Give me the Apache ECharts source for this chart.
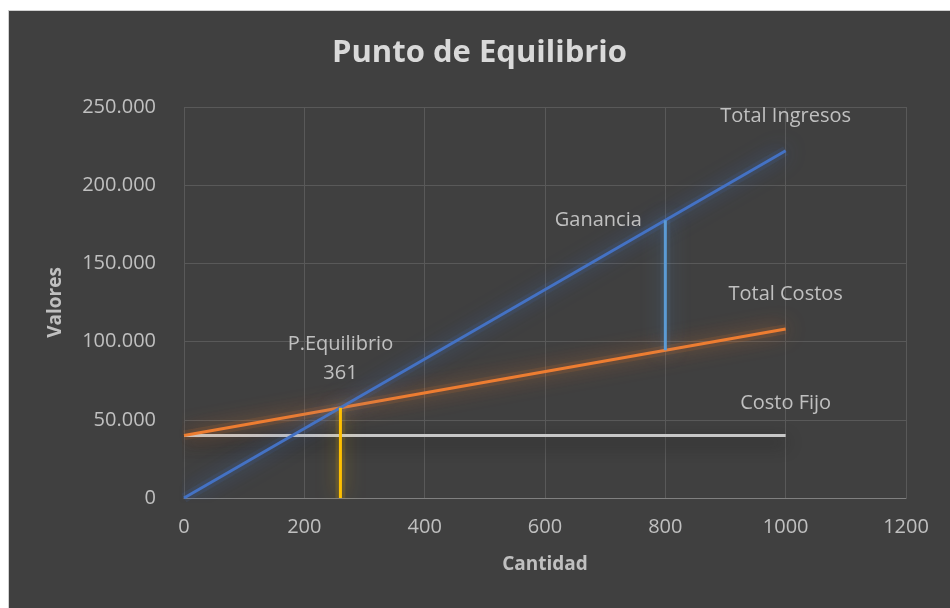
<!DOCTYPE html>
<html>
<head>
<meta charset="utf-8">
<script src="https://cdn.jsdelivr.net/npm/echarts@6/dist/echarts.min.js"></script>
<style>
  html, body { margin: 0; padding: 0; background: #ffffff; width: 950px; height: 608px; overflow: hidden; }
  #chart { position: absolute; left: 8px; top: 10px; width: 942px; height: 598px; background: #404040; border-left: 1px solid #d0d0d0; border-top: 1px solid #d0d0d0; box-sizing: border-box; }
</style>
</head>
<body>
<div id="chart"></div>
<script>
// Break-even analysis: quantity on x, money values on y
const cantidades = [0, 1000];
const totalIngresos = [0, 222000];
const totalCostos = [40000, 108000];
const costoFijo = [40000, 40000];

// Break-even point (where income meets total cost)
const equilibrioCantidad = 260;
const equilibrioValor = 57700;
const equilibrioEtiqueta = ['P.Equilibrio', '361'];

// Profit gap shown at a given quantity
const gananciaCantidad = 800;
const gananciaDesde = 94400;
const gananciaHasta = 177600;

const xTicks = { min: 0, max: 1200, step: 200 };
const yTicks = { min: 0, max: 250000, step: 50000 };

const FONT = '"Open Sans", "Noto Sans", sans-serif';
const TXT = '#c0c0c0';

function pares(xs, ys) { return xs.map((x, i) => [x, ys[i]]); }
function miles(v) { return String(v).replace(/\B(?=(\d{3})+(?!\d))/g, '.'); }

function textLabel(text, extra) {
  return Object.assign({
    show: true, formatter: text, color: TXT, fontFamily: FONT, fontSize: 20
  }, extra);
}

// A data point that carries a text label but no visible marker
function labeled(value, label) {
  return {
    value,
    symbol: 'circle',
    symbolSize: 1,
    itemStyle: { color: 'rgba(0,0,0,0)', borderWidth: 0 },
    label
  };
}

function withEndLabel(points, label) {
  return points.map((p, i) => i === points.length - 1 ? labeled(p, label) : { value: p });
}

const baseSeries = {
  type: 'line',
  symbol: 'none',
  showSymbol: true,
  emphasis: { disabled: true },
  silent: true
};

// Soft halo drawn underneath a line (translucent, blurred stroke)
function glow(points, rgb, alpha, z) {
  return Object.assign({}, baseSeries, {
    data: points.map(p => ({ value: p })),
    lineStyle: { color: `rgba(${rgb},${alpha})`, width: 10, shadowBlur: 24, shadowColor: `rgba(${rgb},${alpha * 2})` },
    z
  });
}

const chart = echarts.init(document.getElementById('chart'), null, { renderer: 'canvas' });

const ingresosData = pares(cantidades, totalIngresos);
const costosData = pares(cantidades, totalCostos);
const fijoData = pares(cantidades, costoFijo);
const gananciaData = [[gananciaCantidad, gananciaDesde], [gananciaCantidad, gananciaHasta]];
const equilibrioData = [[equilibrioCantidad, 0], [equilibrioCantidad, equilibrioValor]];

chart.setOption({
  backgroundColor: '#404040',
  animation: false,
  title: {
    text: 'Punto de Equilibrio',
    left: 'center',
    top: 22,
    textStyle: { color: '#d9d9d9', fontFamily: FONT, fontSize: 31, fontWeight: 'bold' }
  },
  grid: { left: 175, right: 44, top: 96, bottom: 110 },
  xAxis: {
    type: 'value',
    min: xTicks.min, max: xTicks.max, interval: xTicks.step,
    name: 'Cantidad', nameLocation: 'middle', nameGap: 57,
    nameTextStyle: { color: TXT, fontFamily: FONT, fontSize: 19, fontWeight: 'bold' },
    axisLine: { show: true, lineStyle: { color: '#808080', width: 1 } },
    axisTick: { show: false },
    axisLabel: { color: TXT, fontFamily: FONT, fontSize: 20, margin: 19, formatter: v => String(v) },
    splitLine: { show: true, lineStyle: { color: '#595959', width: 1 } }
  },
  yAxis: {
    type: 'value',
    min: yTicks.min, max: yTicks.max, interval: yTicks.step,
    name: 'Valores', nameLocation: 'middle', nameGap: 119, nameRotate: 90,
    nameTextStyle: { color: TXT, fontFamily: FONT, fontSize: 19, fontWeight: 'bold' },
    axisLine: { show: false },
    axisTick: { show: false },
    axisLabel: { color: TXT, fontFamily: FONT, fontSize: 20, margin: 28, formatter: miles },
    splitLine: { show: true, lineStyle: { color: '#595959', width: 1 } }
  },
  series: [
    glow(costosData, '237,125,49', 0.13, 1),
    glow(ingresosData, '68,114,196', 0.13, 1),
    glow(gananciaData, '91,155,213', 0.1, 1),
    glow(equilibrioData, '255,192,0', 0.12, 1),
    Object.assign({}, baseSeries, {
      name: 'Costo Fijo',
      data: withEndLabel(fijoData, textLabel('Costo Fijo', { position: 'top', distance: 22 })),
      lineStyle: { color: '#c8c8c8', width: 3, shadowBlur: 16, shadowColor: 'rgba(25,25,25,0.9)', shadowOffsetY: 7 },
      z: 2
    }),
    Object.assign({}, baseSeries, {
      name: 'Total Costos',
      data: withEndLabel(costosData, textLabel('Total Costos', { position: 'top', distance: 24 })),
      lineStyle: { color: '#ED7D31', width: 3, shadowBlur: 20, shadowColor: 'rgba(237,125,49,0.85)' },
      z: 3
    }),
    Object.assign({}, baseSeries, {
      name: 'Total Ingresos',
      data: withEndLabel(ingresosData, textLabel('Total Ingresos', { position: 'top', distance: 24 })),
      lineStyle: { color: '#4472C4', width: 3, shadowBlur: 20, shadowColor: 'rgba(68,114,196,0.85)' },
      z: 4
    }),
    Object.assign({}, baseSeries, {
      name: 'Ganancia',
      data: [
        { value: gananciaData[0] },
        labeled(gananciaData[1], textLabel('Ganancia', { position: 'left', distance: 23 }))
      ],
      lineStyle: { color: '#5B9BD5', width: 3, shadowBlur: 20, shadowColor: 'rgba(91,155,213,0.7)' },
      z: 5
    }),
    Object.assign({}, baseSeries, {
      name: 'P.Equilibrio',
      data: [
        { value: equilibrioData[0] },
        labeled(equilibrioData[1],
          textLabel(equilibrioEtiqueta.join('\n'), { position: 'top', distance: 19, lineHeight: 29, align: 'center' }))
      ],
      lineStyle: { color: '#FFC000', width: 3, shadowBlur: 20, shadowColor: 'rgba(255,192,0,0.6)' },
      z: 6
    })
  ]
});
</script>
</body>
</html>
